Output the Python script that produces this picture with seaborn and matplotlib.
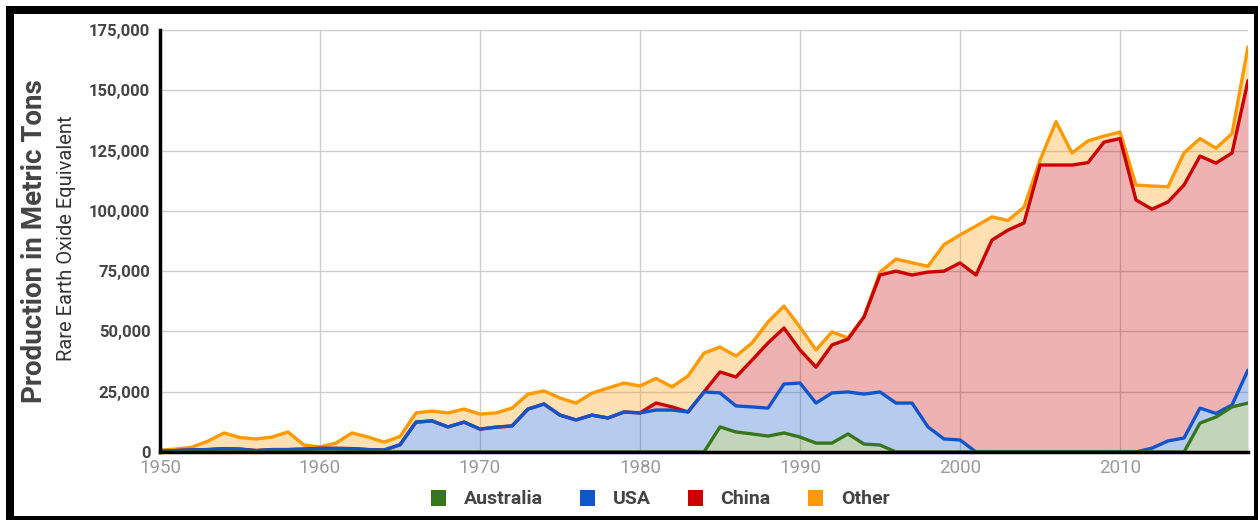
import numpy as np
import pandas as pd
import matplotlib
matplotlib.use("Agg")
import matplotlib.pyplot as plt
import seaborn as sns
from matplotlib.patches import Patch, Rectangle
from matplotlib.ticker import FuncFormatter

# Rare earth oxide production in metric tons, 1950-2018
years = np.arange(1950, 2019)

australia = [0] * 35 + [
    10400, 8300, 7500, 6600, 7900, 6200, 3700, 3700, 7500, 3300, 2900,
] + [0] * 19 + [12000, 14500, 18700, 20300]

usa = [
    300, 600, 900, 1000, 1400, 1200, 600, 1000, 1000, 1200, 1500, 1500, 1400, 1000, 800, 3000,
    12400, 12900, 10400, 12400, 9500, 10300, 10800, 17800, 19900, 15300, 13300, 15300, 14100,
    16600, 16200, 17400, 17400, 16600, 24900,
    14100, 10800, 11200, 11600, 20300, 22400, 16600, 20800, 17400, 20700, 22000, 20300, 20300,
    10400, 5400, 5000,
] + [0] * 11 + [1600, 4600, 5800, 6200, 1500, 800, 13700]

china = [0] * 31 + [2900, 1300, 0, 0] + [
    8700, 12000, 19400, 27000, 23200, 13700, 14900, 19900, 21900, 32000, 48500, 54700, 53100,
    64200, 69600, 73400,
    73400, 87900, 92000, 95000, 119000, 119000, 119000, 120000, 128500, 130000, 104500, 99100,
    99100, 104900, 104500, 103800, 104500, 120000,
]

other = [
    500, 600, 1100, 3500, 6500, 4800, 4800, 5200, 7300, 1700, 600, 2200, 6500, 5200, 3300, 3400,
    3800, 4100, 5800, 5400, 6200, 5900, 7400, 6200, 5400, 7100, 7000, 9100, 12400, 12000, 11200,
    10200,
    8300, 14900, 16100, 10300, 8700, 7100, 8700, 9100, 9500, 7100, 5400, 500, 0, 1200, 5000, 5100,
    2400, 11000, 11600,
    20300, 9600, 4000, 6500, 2000, 18000, 5000, 9000, 2500, 2700, 6200, 9600, 6300, 13300, 7300,
    6200, 8000, 14000,
]

series = ["Australia", "USA", "China", "Other"]
colors = {"Australia": "#38761d", "USA": "#1155cc", "China": "#cc0000", "Other": "#ff9900"}

df = pd.DataFrame({"year": years, "Australia": australia, "USA": usa,
                   "China": china, "Other": other})
stacked = df[series].cumsum(axis=1)
stacked["year"] = years
long_df = stacked.melt(id_vars="year", var_name="country", value_name="top")

sns.set_style("white")
plt.rcParams["font.family"] = ["Roboto", "DejaVu Sans"]

fig = plt.figure(figsize=(12.58, 5.2), dpi=100)
ax = fig.add_axes([160 / 1258, 1 - 452 / 520, (1248 - 160) / 1258, (452 - 30) / 520])

ax.stackplot(df["year"], [df[s] for s in series],
             colors=[colors[s] for s in series], alpha=0.3, linewidth=0)

# lower series drawn last so they sit on top where the boundaries coincide
for z, s in enumerate(reversed(series)):
    sns.lineplot(data=long_df[long_df["country"] == s], x="year", y="top",
                 color=colors[s], linewidth=2.4, ax=ax, zorder=3 + z)

ax.set_xlim(1950, 2018)
ax.set_ylim(0, 175000)
ax.set_xticks(range(1950, 2011, 10))
ax.set_yticks(range(0, 175001, 25000))
ax.yaxis.set_major_formatter(FuncFormatter(lambda v, p: f"{int(v):,}"))
ax.grid(True, color="#cccccc", linewidth=1)
ax.set_axisbelow(True)
ax.tick_params(length=0)
ax.tick_params(axis="y", pad=7, labelsize=12, labelcolor="#444444")
ax.tick_params(axis="x", pad=5, labelsize=13.5, labelcolor="#999999")
for lbl in ax.get_yticklabels():
    lbl.set_fontweight("bold")
ax.set_xlabel("")
ax.set_ylabel("")

for side in ["top", "right"]:
    ax.spines[side].set_visible(False)
for side in ["left", "bottom"]:
    ax.spines[side].set_color("black")
    ax.spines[side].set_linewidth(2.5)
    ax.spines[side].set_zorder(10)

fig.text(35 / 1258, 1 - 241 / 520, "Production in Metric Tons", rotation=90,
         ha="center", va="center", fontsize=20, fontweight="bold", color="#444444")
fig.text(67 / 1258, 1 - 238 / 520, "Rare Earth Oxide Equivalent", rotation=90,
         ha="center", va="center", fontsize=14.5, color="#333333")

handles = [Patch(facecolor=colors[s], edgecolor="none", label=s) for s in series]
leg = fig.legend(handles=handles, loc="center", bbox_to_anchor=(660 / 1258, 1 - 499 / 520),
                 ncol=4, frameon=False, handlelength=0.8, handleheight=0.9,
                 columnspacing=1.9, handletextpad=0.9, fontsize=14)
for t in leg.get_texts():
    t.set_fontweight("bold")
    t.set_color("#444444")

# black frame around the picture
W, H = 1258, 520
for x0, y0, w, h in [(6, 6, W - 6, 8), (6, 6, 8, H - 6), (W - 4, 6, 4, H - 6), (6, H - 4, W - 6, 4)]:
    fig.add_artist(Rectangle((x0 / W, 1 - (y0 + h) / H), w / W, h / H,
                             transform=fig.transFigure, facecolor="black",
                             edgecolor="none", zorder=10))

fig.savefig("out.png", dpi=100)
